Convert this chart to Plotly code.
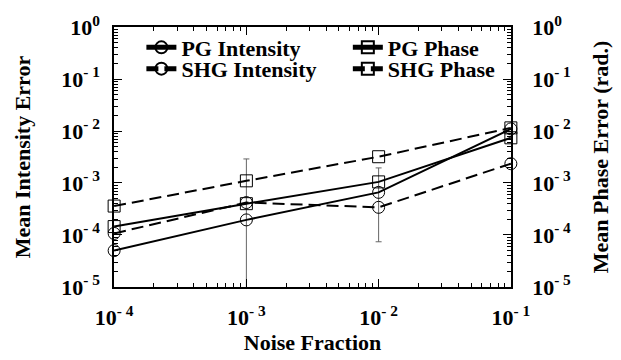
import plotly.graph_objects as go

noise = [1e-4, 1e-3, 1e-2, 1e-1]
pg_intensity = [5.0e-5, 1.95e-4, 6.6e-4, 1.1e-2]
shg_intensity = [1.07e-4, 4.2e-4, 3.4e-4, 2.35e-3]
pg_phase = [1.45e-4, 4.0e-4, 1.05e-3, 7.4e-3]
shg_phase = [3.6e-4, 1.1e-3, 3.2e-3, 1.15e-2]

err_x = [1e-3, 1e-2]
err_center = [4.2e-4, 3.4e-4]
err_top = [2.9e-3, 1.95e-3]
err_bottom = [6e-6, 7.4e-5]

tick_vals = [1e0, 1e-1, 1e-2, 1e-3, 1e-4, 1e-5]
tick_text = ["10<sup>0</sup>", "10<sup>- 1</sup>", "10<sup>- 2</sup>", "10<sup>- 3</sup>",
             "10<sup>- 4</sup>", "10<sup>- 5</sup>"]
x_tick_vals = [1e-4, 1e-3, 1e-2, 1e-1]
x_tick_text = ["10<sup>- 4</sup>", "10<sup>- 3</sup>", "10<sup>- 2</sup>", "10<sup>- 1</sup>"]

y_decades = [-5, -4, -3, -2, -1]
x_decades = [-4, -3, -2]
y_minor = [m * 10.0 ** d for d in y_decades for m in range(2, 10)]
x_minor = [m * 10.0 ** d for d in x_decades for m in range(2, 10)]

FONT = "Liberation Serif"
FS = 22
fig = go.Figure()

# error bars
fig.add_trace(go.Scatter(
    x=err_x, y=err_center, mode="markers", showlegend=False,
    marker=dict(size=1, color="rgba(0,0,0,0)"),
    error_y=dict(type="data", symmetric=False,
                 array=[t - c for t, c in zip(err_top, err_center)],
                 arrayminus=[c - b for c, b in zip(err_center, err_bottom)],
                 color="#666", thickness=1, width=3),
    hoverinfo="skip"))

line_w = 2
mk = dict(size=12, color="black", line=dict(width=1))
fig.add_trace(go.Scatter(
    x=noise, y=pg_intensity, name="PG Intensity", mode="lines+markers", cliponaxis=False,
    line=dict(color="black", width=line_w),
    marker=dict(symbol="circle-open", **mk), legend="legend"))
fig.add_trace(go.Scatter(
    x=noise, y=shg_intensity, name="SHG Intensity", mode="lines+markers", cliponaxis=False,
    line=dict(color="black", width=line_w, dash="12px,6px"),
    marker=dict(symbol="circle-open", **mk), legend="legend2"))
fig.add_trace(go.Scatter(
    x=noise, y=pg_phase, name="PG Phase", mode="lines+markers", cliponaxis=False,
    line=dict(color="black", width=line_w),
    marker=dict(symbol="square-open", **mk), legend="legend3", xaxis="x2", yaxis="y2"))
fig.add_trace(go.Scatter(
    x=noise, y=shg_phase, name="SHG Phase", mode="lines+markers", cliponaxis=False,
    line=dict(color="black", width=line_w, dash="12px,6px"),
    marker=dict(symbol="square-open", **mk), legend="legend4", xaxis="x2", yaxis="y2"))

tickfont = dict(family=FONT, size=FS, color="black", weight="bold")
titlefont = dict(family=FONT, size=FS, color="black", weight="bold")
axis_common = dict(
    type="log", range=[-5.001, 0.001], showgrid=False, zeroline=False,
    showline=True, linecolor="black", linewidth=1.5,
    ticks="inside", ticklen=8, tickcolor="black", tickwidth=1,
    minor=dict(tickvals=y_minor, ticks="inside", ticklen=4, tickcolor="black", tickwidth=1,
               showgrid=False, tickmode="array"),
    tickvals=tick_vals, ticktext=tick_text, tickfont=tickfont,
)
x_range = [-4.001, -0.999]

legend_common = dict(xanchor="left", yanchor="middle", bgcolor="rgba(0,0,0,0)",
                     font=dict(family=FONT, size=FS, color="black", weight="bold"),
                     itemsizing="constant")

fig.update_layout(
    width=621, height=360,
    margin=dict(l=114, r=101, t=22, b=72),
    paper_bgcolor="white", plot_bgcolor="white",
    font=dict(family=FONT, color="black"),
    xaxis=dict(type="log", range=x_range, showgrid=False, zeroline=False,
               showline=True, linecolor="black", linewidth=1.5, mirror="ticks",
               ticks="inside", ticklen=8, tickcolor="black", tickwidth=1,
               tickvals=x_tick_vals, ticktext=x_tick_text, tickfont=tickfont,
               side="bottom", ticklabelstandoff=10,
               title=dict(text="Noise Fraction", font=titlefont, standoff=2)),
    # minor ticks for the x axis (bottom, mirrored on top)
    xaxis2=dict(type="log", range=x_range, overlaying="x", side="bottom",
                showgrid=False, zeroline=False, showline=False, mirror="ticks",
                ticks="inside", ticklen=4, tickcolor="black", tickwidth=1,
                tickvals=x_minor, showticklabels=False),
    yaxis=dict(**axis_common, side="left", ticklabelstandoff=8,
               title=dict(text="Mean Intensity Error", font=titlefont, standoff=24)),
    yaxis2=dict(**axis_common, side="right", overlaying="y", ticklabelstandoff=15,
                title=dict(text="Mean Phase Error (rad.)", font=titlefont, standoff=22)),
    legend=dict(x=0.069, y=0.921, **legend_common),
    legend2=dict(x=0.069, y=0.839, **legend_common),
    legend3=dict(x=0.589, y=0.921, **legend_common),
    legend4=dict(x=0.589, y=0.839, **legend_common),
)

fig.write_html("out.html")
